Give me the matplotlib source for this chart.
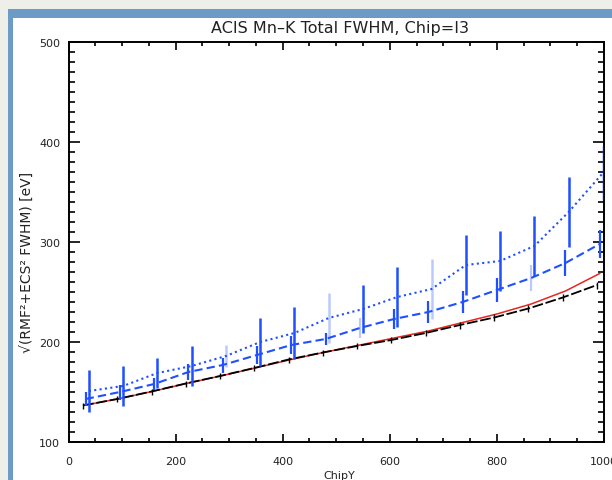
import matplotlib
matplotlib.use("Agg")
import matplotlib.pyplot as plt
from matplotlib.patches import Rectangle
from matplotlib.ticker import MultipleLocator

# -----------------------------
# Data
# -----------------------------
x_black = [27, 91, 155, 219, 283, 347, 411, 475, 539, 603, 667, 731, 795, 859, 923, 987]
black = [136.5, 143, 150.5, 158.5, 166, 174, 182.5, 189.5, 196, 202, 209, 217, 224.5, 233.5, 244.5, 257]
black_err = [3, 3, 3, 3, 3, 3, 3, 3, 3, 3, 3, 3.5, 3.5, 3.5, 3.5, 3.5]

x_red = [32, 96, 160, 224, 288, 352, 416, 480, 544, 608, 672, 736, 800, 864, 928, 992]
red = [137, 143.5, 151, 159, 166.5, 174.5, 182.5, 190, 197, 204, 211, 219.5, 228, 238, 251, 268.5]

x_dash = [32, 96, 160, 224, 288, 352, 416, 480, 544, 608, 672, 736, 800, 864, 928, 992]
dashed = [143, 150, 158, 170, 177, 187, 197, 203, 214, 223, 230, 240, 252, 264, 279, 298]
dashed_err = [7, 7.5, 6, 8, 7.5, 9, 9, 6, 10, 10, 11, 11, 12, 13, 13, 14]

x_dot = [38, 102, 166, 230, 294, 358, 422, 486, 550, 614, 678, 742, 806, 870, 934, 998]
dotted = [151, 156, 169, 176, 186, 200, 209, 224, 233, 245, 253, 277, 281, 296, 330, 369]
dotted_err = [21, 20, 15, 20, 11, 24, 26, 25, 24, 30, 30, 30, 30, 30, 35, 27]

# bars that look washed out in the reference
pale_dash = [8, 13]
pale_dot = [4, 7, 10, 15]

BLUE = "#1f50ff"
TXT = "#222222"

# -----------------------------
# Figure + slide frame
# -----------------------------
W, H = 612, 481
fig = plt.figure(figsize=(W / 100, H / 100), dpi=100)
fig.patch.set_facecolor("#efefe9")
fig.add_artist(Rectangle((8 / W, 0), 1, (H - 10) / H, transform=fig.transFigure,
                         facecolor="#6b9bc6", edgecolor="none", zorder=-2))
fig.add_artist(Rectangle((13 / W, 0), 1, (H - 19) / H, transform=fig.transFigure,
                         facecolor="white", edgecolor="none", zorder=-1))

ax = fig.add_axes([68.5 / W, (H - 443) / H, (604 - 68.5) / W, (443 - 43) / H])
ax.set_facecolor("white")

# -----------------------------
# Lines
# -----------------------------
ax.plot(x_red, red, color="#e8261f", lw=1.1, zorder=2)
ax.plot(x_black, black, color="black", lw=1.3, dashes=(6, 1.5), zorder=3)
ax.vlines(x_black, [b - e for b, e in zip(black, black_err)],
          [b + e for b, e in zip(black, black_err)], color="black", lw=1.0, zorder=3)

ax.plot(x_dash, dashed, color=BLUE, lw=1.5, dashes=(4, 2), zorder=4)
dash_cols = [(0.12, 0.31, 1.0, 0.3 if i in pale_dash else 1.0) for i in range(len(x_dash))]
ax.vlines(x_dash, [v - e for v, e in zip(dashed, dashed_err)],
          [v + e for v, e in zip(dashed, dashed_err)], colors=dash_cols, lw=1.6, zorder=4)

ax.plot(x_dot, dotted, color=BLUE, lw=1.5, dashes=(1, 1.6), zorder=4)
dot_cols = [(0.12, 0.31, 1.0, 0.3 if i in pale_dot else 1.0) for i in range(len(x_dot))]
ax.vlines(x_dot, [v - e for v, e in zip(dotted, dotted_err)],
          [v + e for v, e in zip(dotted, dotted_err)], colors=dot_cols, lw=1.8, zorder=4)

# -----------------------------
# Axes
# -----------------------------
ax.set_xlim(0, 1000)
ax.set_ylim(100, 500)
ax.set_xticks(range(0, 1001, 200))
ax.set_yticks(range(100, 501, 100))
ax.xaxis.set_minor_locator(MultipleLocator(50))
ax.yaxis.set_minor_locator(MultipleLocator(10))
ax.tick_params(which="both", direction="in", top=True, right=True, width=1.2,
               labelsize=8, labelcolor=TXT)
ax.tick_params(axis="x", which="major", length=5.8, pad=10)
ax.tick_params(axis="x", which="minor", length=2.9)
ax.tick_params(axis="y", which="major", length=7.7, pad=6)
ax.tick_params(axis="y", which="minor", length=4.5)
for s in ax.spines.values():
    s.set_linewidth(1.4)

fig.text(340 / W, 1 - 28 / H, "ACIS Mn\u2013K Total FWHM, Chip=I3", ha="center", va="center",
         fontsize=11.5, color=TXT)
fig.text(339 / W, 1 - 476 / H, "ChipY", ha="center", va="center", fontsize=8, color=TXT)
fig.text(26.5 / W, 1 - 262 / H, "\u221a(RMF\u00b2+ECS\u00b2 FWHM) [eV]", ha="center", va="center",
         rotation=90, fontsize=10, color=TXT)

fig.savefig("out.png", dpi=100, facecolor=fig.get_facecolor())
